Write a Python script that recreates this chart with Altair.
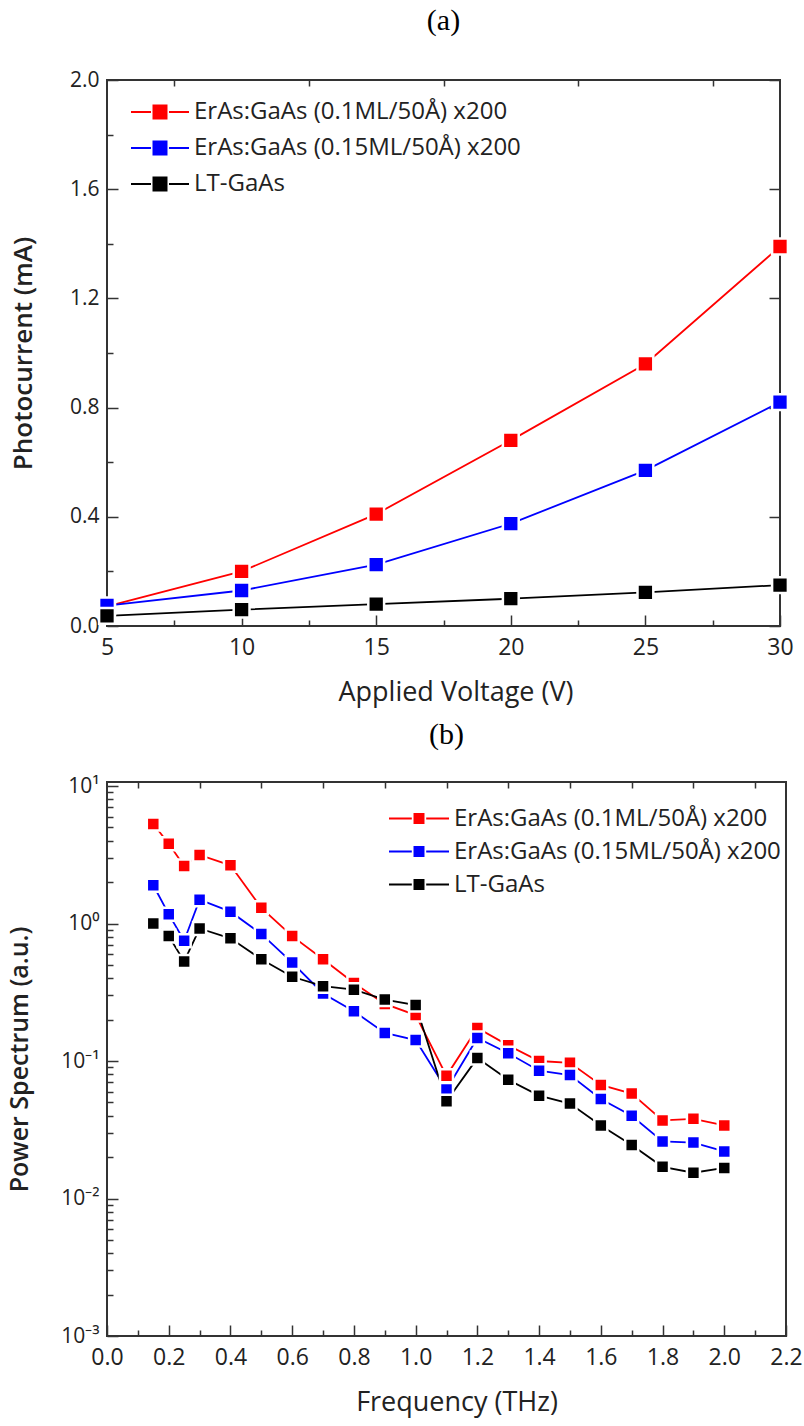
import altair as alt
import pandas as pd

# ---------------- data ----------------
SERIES = ["ErAs:GaAs (0.1ML/50Å) x200", "ErAs:GaAs (0.15ML/50Å) x200", "LT-GaAs"]
COLORS = ["#ff0000", "#0000ff", "#000000"]

voltage = [5, 10, 15, 20, 25, 30]
current_01ml = [0.072, 0.20, 0.41, 0.68, 0.96, 1.39]
current_015ml = [0.075, 0.13, 0.225, 0.375, 0.57, 0.82]
current_lt = [0.037, 0.060, 0.080, 0.100, 0.123, 0.150]

freq = [0.15, 0.2, 0.25, 0.3, 0.4, 0.5, 0.6, 0.7, 0.8, 0.9, 1.0,
        1.1, 1.2, 1.3, 1.4, 1.5, 1.6, 1.7, 1.8, 1.9, 2.0]
power_01ml = [5.3, 3.8, 2.62, 3.15, 2.65, 1.3, 0.81, 0.55, 0.37, 0.26, 0.216,
              0.078, 0.174, 0.13, 0.10, 0.097, 0.067, 0.058, 0.037, 0.038, 0.034]
power_015ml = [1.9, 1.17, 0.75, 1.49, 1.22, 0.84, 0.52, 0.31, 0.23, 0.16, 0.142,
               0.062, 0.147, 0.114, 0.085, 0.079, 0.053, 0.040, 0.026, 0.0255, 0.022]
power_lt = [1.0, 0.81, 0.53, 0.92, 0.78, 0.55, 0.41, 0.35, 0.33, 0.28, 0.255,
            0.051, 0.105, 0.073, 0.056, 0.049, 0.034, 0.0245, 0.017, 0.0154, 0.0167]

# axis tick values
v_major = [5, 10, 15, 20, 25, 30]
v_minor = [7.5, 12.5, 17.5, 22.5, 27.5]
i_major = [0.0, 0.4, 0.8, 1.2, 1.6, 2.0]
i_minor = [0.2, 0.6, 1.0, 1.4, 1.8]
f_major = [0.0, 0.2, 0.4, 0.6, 0.8, 1.0, 1.2, 1.4, 1.6, 1.8, 2.0, 2.2]
f_minor = [0.1, 0.3, 0.5, 0.7, 0.9, 1.1, 1.3, 1.5, 1.7, 1.9, 2.1]
p_major = [0.001, 0.01, 0.1, 1, 10]
p_minor = [k * d for d in [0.001, 0.01, 0.1, 1] for k in range(2, 10)]

SANS = "Open Sans"
SERIF = "Liberation Serif"
INK = "#222222"
FRAME = "#333333"

W1, H1 = 673, 546
W2, H2 = 679, 554


def long_table(xs, ys_list, xname, yname):
    rows = []
    for name, ys in zip(SERIES, ys_list):
        for x, y in zip(xs, ys):
            rows.append({xname: x, yname: y, "series": name})
    return pd.DataFrame(rows)


top_df = long_table(voltage, [current_01ml, current_015ml, current_lt], "V", "I")
bot_df = long_table(freq, [power_01ml, power_015ml, power_lt], "f", "P")


def tick_axis(orient, values, size, offset):
    return alt.Axis(orient=orient, values=values, offset=offset, ticks=True,
                    tickSize=size, tickWidth=1.5, tickColor=FRAME,
                    labels=False, domain=False, grid=False, title=None)


def label_axis(orient, values, title, label_size, label_pad, title_size,
               title_pad, title_weight="normal", fmt=None, expr=None,
               title_x=None):
    kw = dict(orient=orient, values=values, ticks=False, tickSize=0,
              domain=False, grid=False, labelFont=SANS, labelFlush=False,
              labelFontSize=label_size, labelColor=INK, labelPadding=label_pad,
              title=title, titleFont=SANS, titleFontSize=title_size,
              titleFontWeight=title_weight, titleColor=INK,
              titlePadding=title_pad)
    if fmt is not None:
        kw["format"] = fmt
    if expr is not None:
        kw["labelExpr"] = expr
    if title_x is not None:
        kw["titleX"] = title_x
    return alt.Axis(**kw)


def legend_symbol(half_sq, half_th, gap):
    return (f"M-1,-{half_th}H-{gap}V{half_th}H-1Z "
            f"M{gap},-{half_th}H1V{half_th}H{gap}Z "
            f"M-{half_sq},-{half_sq}H{half_sq}V{half_sq}H-{half_sq}Z")


# the line scale carries one unused extra entry so that its (hidden) legend
# is not merged with the marker legend
line_scale = alt.Scale(domain=SERIES + ["(line)"], range=COLORS + ["#000000"])
marker_scale = alt.Scale(domain=SERIES, range=COLORS)


def panel(df, xf, yf, xscale, yscale, x_axes, y_axes, legend, msize, mstroke,
          title):
    base = alt.Chart(df)
    line = base.mark_line(strokeWidth=1.8).encode(
        x=alt.X(xf, scale=xscale, axis=x_axes[0]),
        y=alt.Y(yf, scale=yscale, axis=y_axes[0]),
        stroke=alt.Stroke("series:N", scale=line_scale, legend=None),
    )
    pts = base.mark_point(shape="square", filled=True, size=msize, opacity=1,
                          stroke="white", strokeWidth=mstroke).encode(
        x=alt.X(xf, scale=xscale, axis=x_axes[1]),
        y=alt.Y(yf, scale=yscale, axis=y_axes[1]),
        color=alt.Color("series:N", scale=marker_scale, legend=legend),
    )
    ghost1 = base.mark_point(opacity=0).encode(
        x=alt.X(xf, scale=xscale, axis=x_axes[2]),
        y=alt.Y(yf, scale=yscale, axis=y_axes[2]),
    )
    ghost2 = base.mark_point(opacity=0).encode(
        x=alt.X(xf, scale=xscale, axis=x_axes[3]),
        y=alt.Y(yf, scale=yscale, axis=y_axes[3]),
    )
    return alt.layer(line, pts, ghost1, ghost2).resolve_axis(
        x="independent", y="independent"
    ).properties(title=title)


# ---------------- panel (a) ----------------
top_x_axes = [
    label_axis("bottom", v_major, "Applied Voltage (V)", 23, 10, 27, 20,
               fmt="d", title_x=W1 / 2 + 12),
    tick_axis("top", v_major, 11, -H1),
    tick_axis("top", v_minor, 6, -H1),
    tick_axis("bottom", v_minor, 6, -H1),
]
top_y_axes = [
    label_axis("left", i_major, "Photocurrent (mA)", 21, 8, 26, 33,
               title_weight=600, fmt=".1f"),
    tick_axis("right", i_major, 11, -W1),
    tick_axis("right", i_minor, 6, -W1),
    tick_axis("left", i_major, 11, -W1),
]
top_legend = alt.Legend(
    title=None, orient="none", legendX=24, legendY=14,
    symbolType=legend_symbol(0.2586, 0.0345, 0.31), symbolSize=3364,
    symbolStrokeWidth=0, symbolOpacity=1, clipHeight=36, rowPadding=0,
    padding=0, labelFont=SANS, labelFontSize=24, labelColor=INK,
    labelOffset=5, labelLimit=500,
)
top = panel(
    top_df, "V:Q", "I:Q",
    alt.Scale(domain=[5, 30], nice=False, zero=False),
    alt.Scale(domain=[0, 2.0], nice=False),
    top_x_axes, top_y_axes, top_legend, 250, 2.5,
    alt.TitleParams("(a)", font=SERIF, fontSize=30, fontWeight="normal",
                    color="black", frame="group", anchor="middle",
                    baseline="bottom", offset=3),
).properties(width=W1, height=H1)

# ---------------- panel (b) ----------------
sup_expr = ("datum.value > 5 ? '10¹' : datum.value > 0.5 ? '10⁰' : "
            "datum.value > 0.05 ? '10⁻¹' : datum.value > 0.005 ? '10⁻²' : '10⁻³'")
bot_x_axes = [
    label_axis("bottom", f_major, "Frequency (THz)", 23, 10, 27, 20,
               fmt=".1f", title_x=W2 / 2 + 10),
    tick_axis("top", f_major, 11, -H2),
    tick_axis("top", f_minor, 6, -H2),
    tick_axis("bottom", f_minor, 6, -H2),
]
bot_y_axes = [
    label_axis("left", p_major, "Power Spectrum (a.u.)", 21, 8, 25, 28,
               title_weight=600, expr=sup_expr),
    tick_axis("right", p_major, 11, -W2),
    tick_axis("right", p_minor, 6, -W2),
    None,
]
bot_legend = alt.Legend(
    title=None, orient="none", legendX=W2 - 397, legendY=20,
    symbolType=legend_symbol(0.183, 0.033, 0.24), symbolSize=3600,
    symbolStrokeWidth=0, symbolOpacity=1, clipHeight=33, rowPadding=0,
    padding=0, labelFont=SANS, labelFontSize=24, labelColor=INK,
    labelOffset=5, labelLimit=500,
)
bottom = panel(
    bot_df, "f:Q", "P:Q",
    alt.Scale(domain=[0, 2.2], nice=False, zero=False),
    alt.Scale(type="log", domain=[0.001, 10.7], nice=False),
    bot_x_axes, bot_y_axes, bot_legend, 169, 2.5,
    alt.TitleParams("(b)", font=SERIF, fontSize=30, fontWeight="normal",
                    color="black", frame="group", anchor="middle",
                    baseline="bottom", offset=-5),
).properties(width=W2, height=H2)

chart = alt.vconcat(top, bottom, spacing=13).resolve_scale(
    color="independent", stroke="independent"
).resolve_legend(color="independent", stroke="independent").properties(
    padding={"left": 6, "top": 5, "right": 0, "bottom": 4}
).configure_view(stroke=FRAME, strokeWidth=2)

chart.save("out.html", embed_options={"renderer": "svg", "actions": False})
